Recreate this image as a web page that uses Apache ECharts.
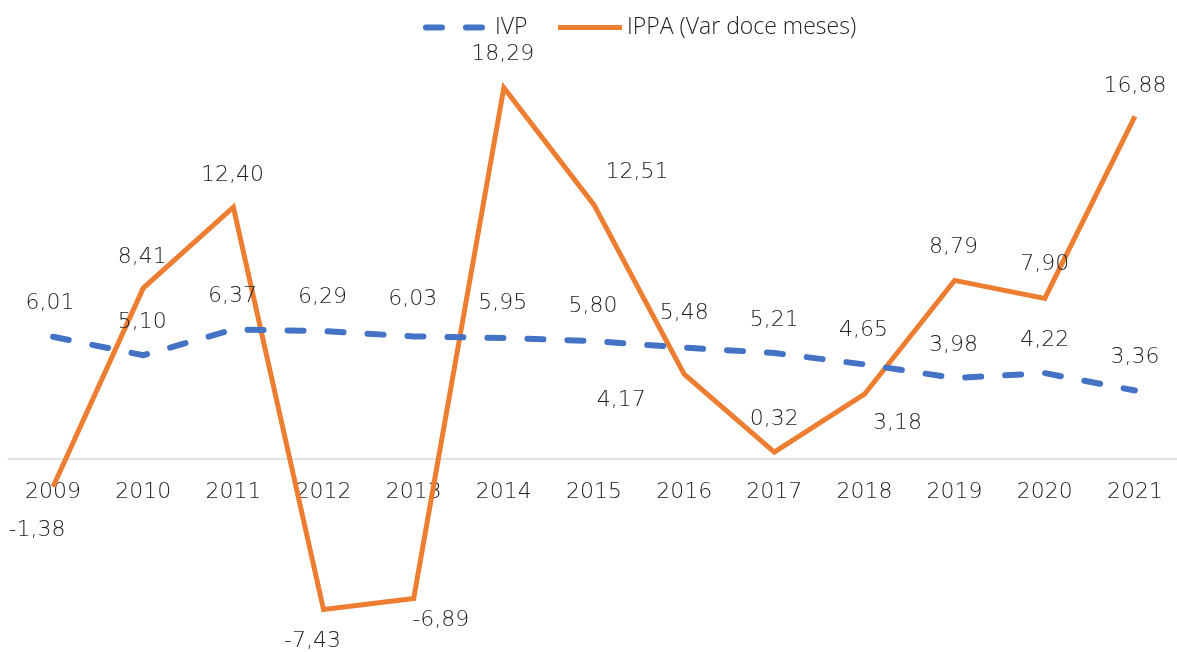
<!DOCTYPE html>
<html>
<head>
<meta charset="utf-8">
<script src="https://cdn.jsdelivr.net/npm/echarts@6/dist/echarts.min.js"></script>
<style>
  html, body { margin: 0; padding: 0; background: #fff; }
  #main { width: 1177px; height: 652px; }
</style>
</head>
<body>
<div id="main"></div>
<script>
var years = ["2009", "2010", "2011", "2012", "2013", "2014", "2015", "2016", "2017", "2018", "2019", "2020", "2021"];
var ivp = [6.01, 5.10, 6.37, 6.29, 6.03, 5.95, 5.80, 5.48, 5.21, 4.65, 3.98, 4.22, 3.36];
var ippa = [-1.38, 8.41, 12.40, -7.43, -6.89, 18.29, 12.51, 4.17, 0.32, 3.18, 8.79, 7.90, 16.88];

// label offsets (relative to the point)
var ivpOffsets = [[-3, -34], [-1, -33], [-1, -33], [-1, -34], [-1, -37], [-1, -35], [-1, -35], [0, -34], [0, -33], [-1, -34], [-1, -33], [0, -33], [0, -33]];
var ippaOffsets = [[-16, 44], [-1, -31], [-1, -32], [-11, 32], [27, 22], [-1, -33], [43, -33], [-63, 26], [0, -33], [33, 29], [-1, -33], [0, -34], [0, -30]];

var NUM_FONT = "'DejaVu Sans', sans-serif";
var LEG_FONT = "'Open Sans', sans-serif";
var TXT = '#222';

function fmt(v) {
    return v.toFixed(2).replace(".", ",");
}

function withLabels(values, offsets) {
    return values.map(function (v, i) {
        return {
            value: v,
            label: { offset: offsets[i] }
        };
    });
}

var labelStyle = {
    show: true,
    position: 'inside',
    color: TXT,
    fontSize: 22,
    fontWeight: 200,
    fontFamily: NUM_FONT,
    formatter: function (p) { return fmt(p.value); }
};

var myChart = echarts.init(document.getElementById('main'));

var option = {
    animation: false,
    legend: {
        top: 11,
        left: 418,
        itemWidth: 64,
        itemHeight: 14,
        itemGap: 28,
        itemStyle: { opacity: 0 },
        textStyle: { fontFamily: LEG_FONT, fontSize: 23, fontWeight: 300, color: TXT },
        data: [
            { name: 'IVP', lineStyle: { width: 6, type: [16, 24], cap: 'round' } },
            { name: 'IPPA (Var doce meses)', lineStyle: { width: 5 } }
        ]
    },
    grid: { left: 8, width: 1172, top: 53, height: 568, outerBoundsMode: 'none', containLabel: false },
    xAxis: {
        type: 'category',
        data: years,
        boundaryGap: true,
        position: 'bottom',
        offset: -162,
        axisLine: { onZero: false, lineStyle: { color: '#d9d9d9', width: 1.5 } },
        axisTick: { show: false },
        axisLabel: { color: TXT, fontSize: 22, fontWeight: 200, fontFamily: NUM_FONT, margin: 22 }
    },
    yAxis: {
        type: 'value',
        min: -8,
        max: 20,
        show: false,
        splitLine: { show: false }
    },
    series: [
        {
            name: 'IVP',
            type: 'line',
            data: withLabels(ivp, ivpOffsets),
            symbol: 'circle',
            symbolSize: 0,
            showSymbol: true,
            itemStyle: { color: '#4472C4' },
            lineStyle: { color: '#4472C4', width: 6, type: [16, 24], cap: 'round' },
            label: labelStyle,
            z: 3
        },
        {
            name: 'IPPA (Var doce meses)',
            type: 'line',
            data: withLabels(ippa, ippaOffsets),
            symbol: 'circle',
            symbolSize: 0,
            showSymbol: true,
            itemStyle: { color: '#ED7D31' },
            lineStyle: { color: '#ED7D31', width: 5, join: 'miter' },
            label: labelStyle,
            z: 2
        }
    ]
};

myChart.setOption(option);
</script>
</body>
</html>
